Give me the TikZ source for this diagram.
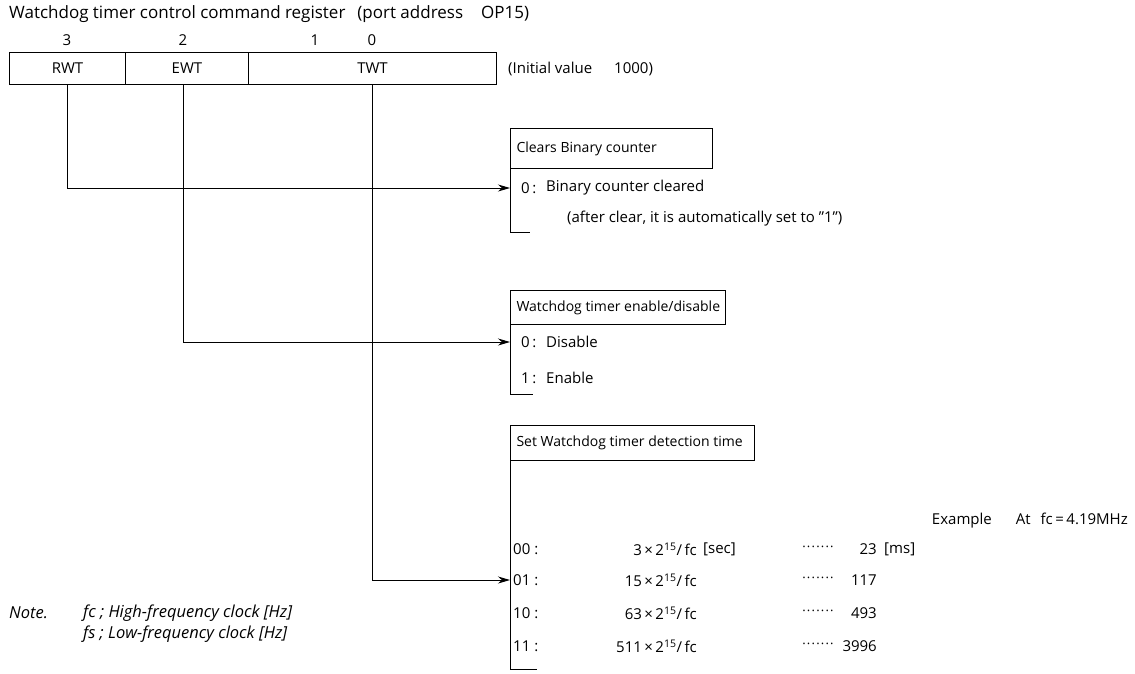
\documentclass[tikz,border=0pt]{standalone}
\usepackage{fontspec}
\setmainfont{Open Sans}
\usetikzlibrary{arrows.meta}
\newcommand{\tw}{2\textsuperscript{15}}
\newcommand{\fnt}{\fontsize{15}{17}\selectfont}
\newcommand{\hfnt}{\fontsize{14}{16}\selectfont}
\newcommand{\dotrow}{·\hspace{1.2pt}·\hspace{1.2pt}·\hspace{1.2pt}·\hspace{1.2pt}·\hspace{1.2pt}·\hspace{1.2pt}·}
\begin{document}
\begin{tikzpicture}[x=1pt,y=-1pt,
  every node/.style={font=\fnt, inner sep=0pt},
  txt/.style={anchor=west},
  cell/.style={draw, line width=1pt, minimum height=32pt, anchor=north west, inner sep=0pt},
  hdr/.style={draw, line width=1pt, anchor=north west, inner sep=0pt, minimum height=#1, font=\hfnt},
  wire/.style={line width=1pt},
  conn/.style={line width=1pt, -{Stealth[length=12pt,width=7pt]}},
  note/.style={anchor=west, font=\fontsize{16.5}{19}\selectfont\itshape},
  dots/.style={font=\fontsize{13}{15}\selectfont}
]
\useasboundingbox (0,0) rectangle (1135,673);

% title
\node[txt, font=\fontsize{17}{19}\selectfont] (title) at (9,14) {Watchdog timer control command register\hspace{12pt}(port address\hspace{18pt}OP15)};

% bit numbers
\node (b3) at (67,40) {3};
\node (b2) at (183,40) {2};
\node (b1) at (315,40) {1};
\node (b0) at (372,40) {0};

% register cells
\node[cell, minimum width=116pt] (rwt) at (9,52) {RWT};
\node[cell, minimum width=123pt] (ewt) at (125,52) {EWT};
\node[cell, minimum width=248pt] (twt) at (248,52) {TWT};
\node[txt] (init) at (508,69) {(Initial value\hspace{22pt}1000)};

% box 1
\node[hdr=40pt, minimum width=202pt] (h1) at (510,128) {\makebox[202pt][l]{\hspace{6pt}Clears Binary counter}};
\coordinate (b1bot) at (510,232);
\coordinate (b1tick) at (530,232);
\draw[wire] (h1.south west) -- (b1bot) -- (b1tick);
\coordinate (a1) at (510,188);
\node[txt] (r10) at (521,188) {0\,:};
\node[txt] (r10t) at (546,188) {Binary counter cleared};
\node[txt] (r11) at (567,219) {(after clear, it is automatically set to ''1'')};

% box 2
\node[hdr=34pt, minimum width=215pt] (h2) at (510,290) {\makebox[215pt][l]{\hspace{6pt}Watchdog timer enable/disable}};
\coordinate (b2bot) at (510,394);
\coordinate (b2tick) at (533,394);
\draw[wire] (h2.south west) -- (b2bot) -- (b2tick);
\coordinate (a2) at (510,342);
\node[txt] (r20) at (521,342) {0\,:};
\node[txt] (r20t) at (546,342) {Disable};
\node[txt] (r21) at (521,378) {1\,:};
\node[txt] (r21t) at (546,378) {Enable};

% box 3
\node[hdr=35pt, minimum width=244pt] (h3) at (510,425) {\makebox[244pt][l]{\hspace{6pt}Set Watchdog timer detection time}};
\coordinate (b3bot) at (510,669);
\coordinate (b3tick) at (537,669);
\draw[wire] (h3.south west) -- (b3bot) -- (b3tick);
\coordinate (a3) at (510,580);
\node[anchor=east] (ex) at (1128,521) {Example\hspace{24pt}At\hspace{10pt}fc\,=\,4.19MHz};

\node[txt] (c00) at (513,549) {00 :};
\node[anchor=east] (f00) at (697,549) {3\,×\,\tw/\,fc};
\node[txt] (s00) at (703,549) {[sec]};
\node[dots] (d00) at (818,549) {\dotrow};
\node[anchor=east] (v00) at (877,549) {23};
\node[txt] (m00) at (884,549) {[ms]};

\node[txt] (c01) at (513,580) {01 :};
\node[anchor=east] (f01) at (697,580) {15\,×\,\tw/\,fc};
\node[dots] (d01) at (818,580) {\dotrow};
\node[anchor=east] (v01) at (877,580) {117};

\node[txt] (c10) at (513,613) {10 :};
\node[anchor=east] (f10) at (697,613) {63\,×\,\tw/\,fc};
\node[dots] (d10) at (818,613) {\dotrow};
\node[anchor=east] (v10) at (877,613) {493};

\node[txt] (c11) at (513,646) {11 :};
\node[anchor=east] (f11) at (697,646) {511\,×\,\tw/\,fc};
\node[dots] (d11) at (818,646) {\dotrow};
\node[anchor=east] (v11) at (877,646) {3996};

% connectors
\draw[conn] (rwt.south) |- (a1);
\draw[conn] (ewt.south) ++(-4,0) |- (a2);
\draw[conn] (twt.south) |- (a3);

% note
\node[note] (nt) at (9,613) {Note.};
\node[note] (n1) at (83,613) {fc ; High-frequency clock [Hz]};
\node[note] (n2) at (83,634) {fs ; Low-frequency clock [Hz]};
\end{tikzpicture}
\end{document}
